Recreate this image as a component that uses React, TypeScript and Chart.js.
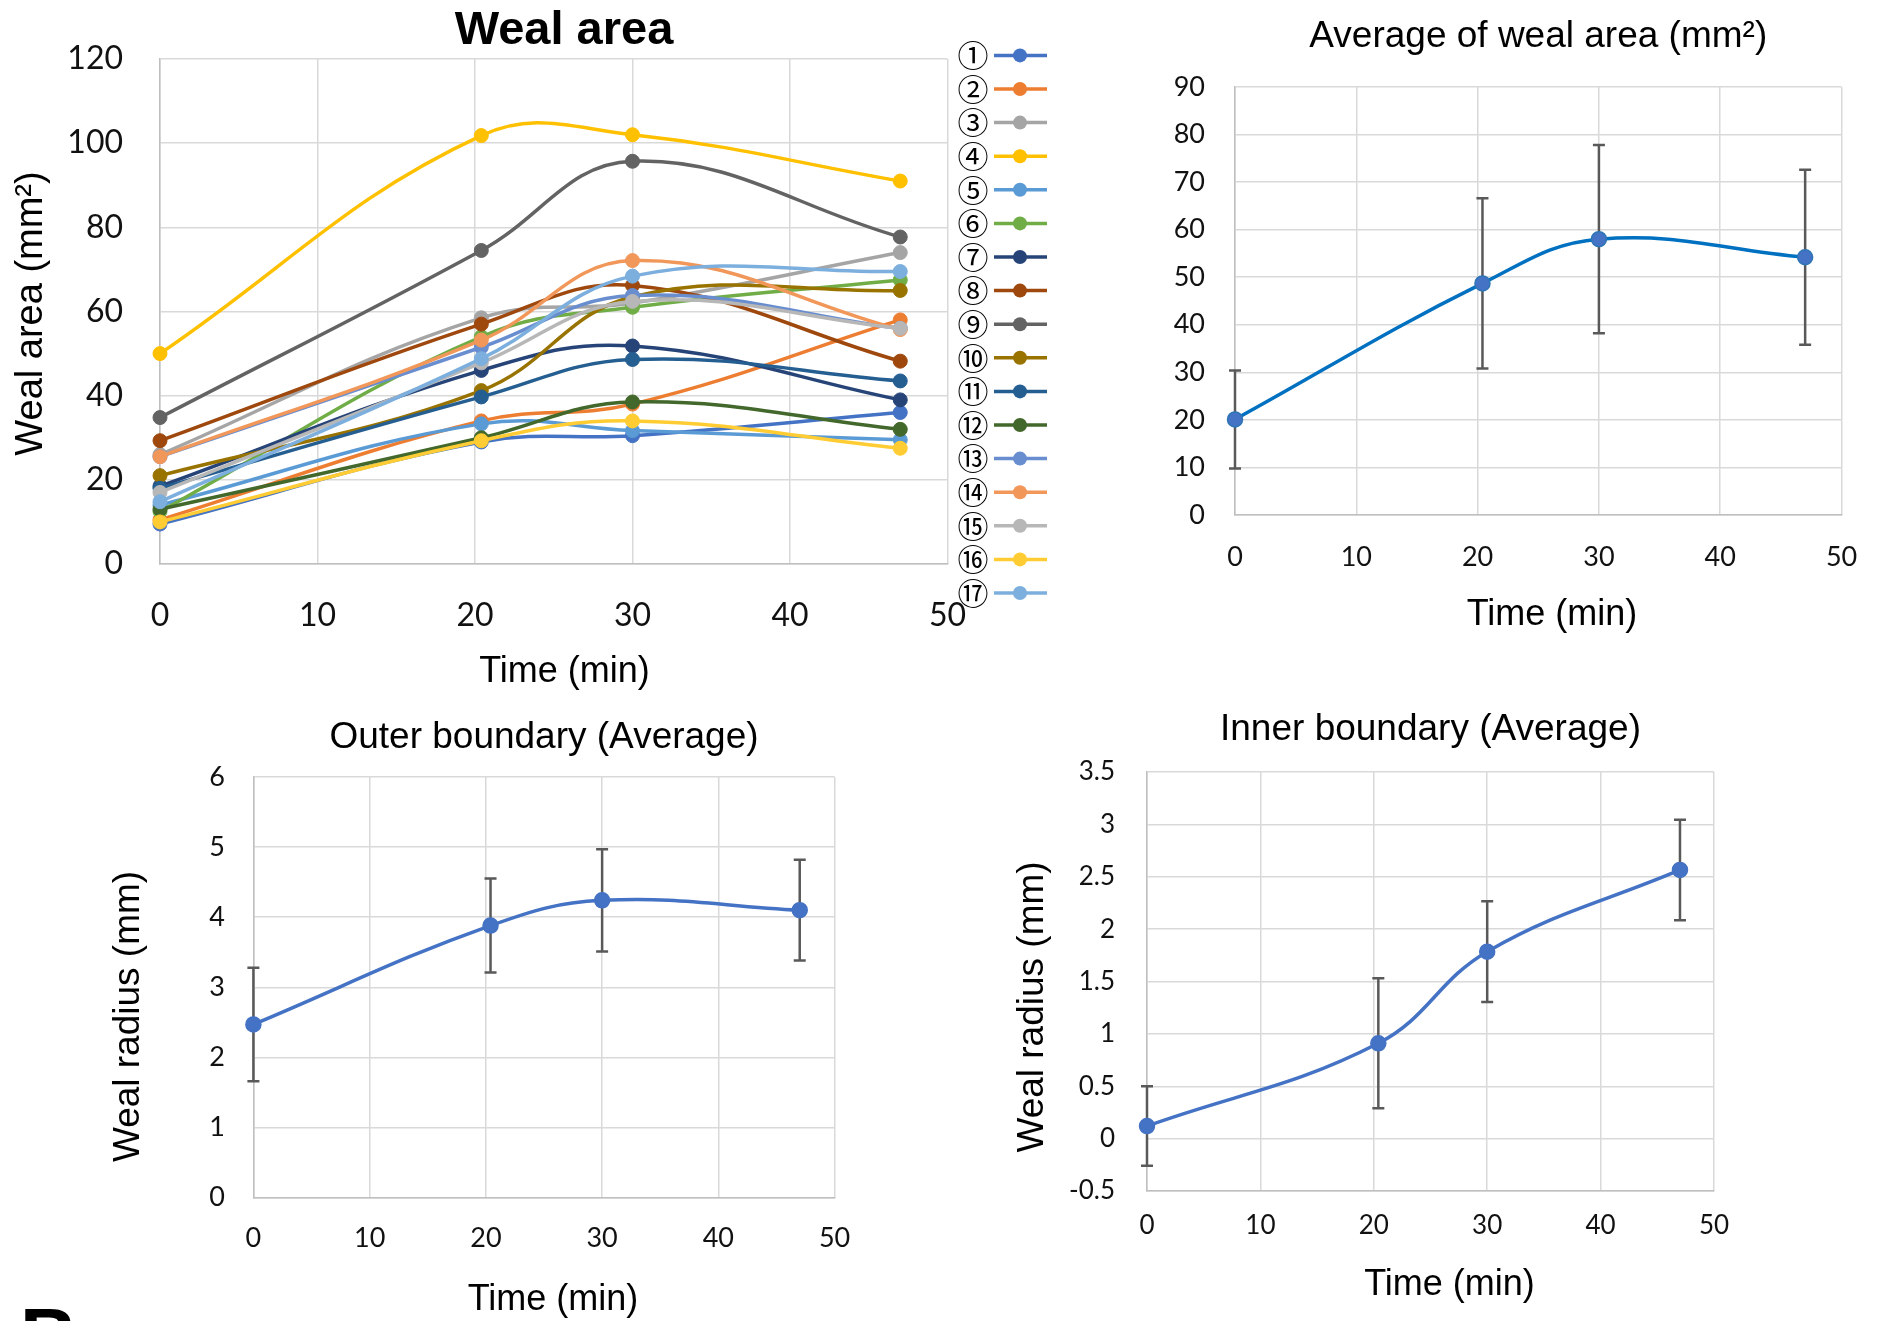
import React, { useEffect, useRef } from 'react';
import { Chart, registerables } from 'chart.js';

Chart.register(...registerables);

// ---------------- data ----------------
const TIMES = [0, 20.4, 30, 47];
const X_TICK_MIN = 0;
const X_TICK_MAX = 50;
const X_TICK_STEP = 10;

const SERIES_LABELS = ['①', '②', '③', '④', '⑤', '⑥', '⑦', '⑧', '⑨', '⑩', '⑪', '⑫', '⑬', '⑭', '⑮', '⑯', '⑰'];
const S01 = [9.5, 29, 30.5, 36];
const S02 = [10.5, 34, 38, 58];
const S03 = [26, 58.5, 62, 74];
const S04 = [50, 101.8, 102, 91];
const S05 = [14, 33.3, 31.7, 29.5];
const S06 = [12.5, 54, 61, 67.5];
const S07 = [18.5, 46, 51.8, 39];
const S08 = [29.3, 57, 66.2, 48.2];
const S09 = [34.8, 74.5, 95.7, 77.7];
const S10 = [21, 41.2, 63.5, 65];
const S11 = [18, 39.7, 48.6, 43.5];
const S12 = [13, 30, 38.5, 32];
const S13 = [25.5, 51.5, 63.8, 56];
const S14 = [25.5, 53.2, 72.1, 55.7];
const S15 = [17, 47.8, 62.4, 56];
const S16 = [10, 29.3, 34, 27.5];
const S17 = [14.8, 48.8, 68.4, 69.5];
const SERIES_VALUES = [S01, S02, S03, S04, S05, S06, S07, S08, S09, S10, S11, S12, S13, S14, S15, S16, S17];
const SERIES_COLORS = [
  '#4472C4', '#ED7D31', '#A5A5A5', '#FFC000', '#5B9BD5', '#70AD47', '#264478', '#9E480E', '#636363',
  '#997300', '#255E91', '#43682B', '#698ED0', '#F1975A', '#B7B7B7', '#FFCD33', '#7CAFDD',
];
const AREA_Y = [0, 120, 20];

const AREA_MEAN = [20.1, 48.7, 58.0, 54.2];
const AREA_SD = [10.3, 17.9, 19.8, 18.4];
const AREA_AVG_Y = [0, 90, 10];

const OUTER_MEAN = [2.47, 3.88, 4.24, 4.1];
const OUTER_SD = [0.81, 0.67, 0.73, 0.72];
const OUTER_Y = [0, 6, 1];

const INNER_MEAN = [0.12, 0.91, 1.785, 2.565];
const INNER_SD = [0.38, 0.62, 0.48, 0.48];
const INNER_Y = [-0.5, 3.5, 0.5];

// ---------------- styling helpers ----------------
const SANS = "'Liberation Sans', Arial, Helvetica, sans-serif";
const TICK_FONT = "Lato, 'Liberation Sans', sans-serif";
const CJK = "'Noto Sans CJK JP', 'Noto Sans CJK SC', sans-serif";

type TextItem = { text: string; x: number; y: number; size: number; rotate?: boolean; bold?: boolean };

function makeTextPlugin(items: TextItem[]) {
  return {
    id: 'freeText',
    afterDraw(chart: any) {
      const ctx = chart.ctx;
      items.forEach((it) => {
        ctx.save();
        ctx.translate(it.x, it.y);
        if (it.rotate) ctx.rotate(-Math.PI / 2);
        ctx.font = `${it.bold ? 'bold' : 'normal'} ${it.size}px ${SANS}`;
        ctx.fillStyle = '#000';
        ctx.textAlign = 'center';
        ctx.textBaseline = 'middle';
        ctx.fillText(it.text, 0, 0);
        ctx.restore();
      });
    },
  };
}

function makeErrorBarPlugin(sd: number[]) {
  return {
    id: 'errorBars',
    beforeDatasetsDraw(chart: any) {
      const ctx = chart.ctx;
      const xs = chart.scales.x;
      const ys = chart.scales.y;
      const pts = chart.data.datasets[0].data as { x: number; y: number }[];
      ctx.save();
      ctx.strokeStyle = '#595959';
      ctx.lineWidth = 2.5;
      pts.forEach((p, i) => {
        const px = xs.getPixelForValue(p.x);
        const top = ys.getPixelForValue(p.y + sd[i]);
        const bot = ys.getPixelForValue(p.y - sd[i]);
        ctx.beginPath();
        ctx.moveTo(px, top);
        ctx.lineTo(px, bot);
        ctx.moveTo(px - 6, top);
        ctx.lineTo(px + 6, top);
        ctx.moveTo(px - 6, bot);
        ctx.lineTo(px + 6, bot);
        ctx.stroke();
      });
      ctx.restore();
    },
  };
}

const seriesLegendPlugin = {
  id: 'seriesLegend',
  afterDraw(chart: any) {
    const ctx = chart.ctx;
    const y0 = 55.4;
    const dy = 33.6;
    ctx.save();
    chart.data.datasets.forEach((ds: any, i: number) => {
      const y = y0 + i * dy;
      ctx.fillStyle = '#000';
      ctx.font = `31px ${CJK}`;
      ctx.textAlign = 'center';
      ctx.textBaseline = 'middle';
      ctx.fillText(ds.label, 973, y);
      ctx.strokeStyle = ds.borderColor;
      ctx.lineWidth = 3.5;
      ctx.beginPath();
      ctx.moveTo(994, y);
      ctx.lineTo(1047, y);
      ctx.stroke();
      ctx.fillStyle = ds.borderColor;
      ctx.beginPath();
      ctx.arc(1020, y, 7, 0, Math.PI * 2);
      ctx.fill();
    });
    ctx.restore();
  },
};

function linearScale(range: number[], tickSize: number, pad: number, fit: number, horizontal: boolean) {
  return {
    type: 'linear',
    min: range[0],
    max: range[1],
    ticks: {
      stepSize: range[2],
      padding: pad,
      color: '#111',
      font: { family: TICK_FONT, size: tickSize },
      autoSkip: false,
      maxRotation: 0,
      callback: (v: any) => String(v),
    },
    grid: { color: '#D9D9D9', lineWidth: 1.5, drawTicks: false },
    border: { color: '#BFBFBF', width: 1.5 },
    afterFit: (s: any) => {
      if (horizontal) s.height = fit;
      else s.width = fit;
    },
  };
}

function titleOpts(text: string, size: number, top: number, bottom: number) {
  return {
    display: true,
    text,
    color: '#000',
    fullSize: false,
    font: { family: SANS, size, weight: 'normal' },
    padding: { top, bottom },
  };
}

const X_RANGE = [X_TICK_MIN, X_TICK_MAX, X_TICK_STEP];

function buildAreaConfig(): any {
  return {
    type: 'line',
    data: {
      datasets: SERIES_VALUES.map((vals, i) => ({
        label: SERIES_LABELS[i],
        data: TIMES.map((t, j) => ({ x: t, y: vals[j] })),
        borderColor: SERIES_COLORS[i],
        backgroundColor: SERIES_COLORS[i],
        pointBackgroundColor: SERIES_COLORS[i],
        pointBorderColor: SERIES_COLORS[i],
        borderWidth: 3.5,
        pointRadius: 7,
        pointBorderWidth: 1,
        tension: 0.4,
        fill: false,
        clip: false,
        order: -i,
      })),
    },
    options: {
      responsive: false,
      animation: false,
      events: [],
      layout: { padding: { left: 0, right: 180.5, top: 59, bottom: 0 } },
      plugins: {
        legend: { display: false },
        tooltip: { enabled: false },
        title: { display: false },
      },
      scales: {
        x: linearScale(X_RANGE, 32, 32, 136, true),
        y: linearScale(AREA_Y, 32, 37, 160, false),
      },
    },
    plugins: [
      seriesLegendPlugin,
      makeTextPlugin([
        { text: 'Weal area', x: 564, y: 31, size: 47, bold: true },
        { text: 'Weal area (mm²)', x: 32, y: 313.5, size: 38, rotate: true },
        { text: 'Time (min)', x: 564.5, y: 672, size: 36 },
      ]),
    ],
  };
}

type AvgSpec = {
  mean: number[];
  sd: number[];
  yRange: number[];
  lineColor: string;
  pointBorder: string;
  title: string;
  titleTop: number;
  titleBottom: number;
  padRight: number;
  yWidth: number;
  yPad: number;
  xHeight: number;
  xPad: number;
  tickSize: number;
  texts: TextItem[];
};

function buildAvgConfig(s: AvgSpec): any {
  return {
    type: 'line',
    data: {
      datasets: [
        {
          label: s.title,
          data: TIMES.map((t, j) => ({ x: t, y: s.mean[j] })),
          borderColor: s.lineColor,
          backgroundColor: '#4472C4',
          pointBackgroundColor: '#4472C4',
          pointBorderColor: s.pointBorder,
          pointBorderWidth: 1.5,
          borderWidth: 3.5,
          pointRadius: 7.5,
          tension: 0.4,
          fill: false,
          clip: false,
        },
      ],
    },
    options: {
      responsive: false,
      animation: false,
      events: [],
      layout: { padding: { left: 0, right: s.padRight, top: 0, bottom: 0 } },
      plugins: {
        legend: { display: false },
        tooltip: { enabled: false },
        title: titleOpts(s.title, 37, s.titleTop, s.titleBottom),
      },
      scales: {
        x: linearScale(X_RANGE, s.tickSize, s.xPad, s.xHeight, true),
        y: linearScale(s.yRange, s.tickSize, s.yPad, s.yWidth, false),
      },
    },
    plugins: [makeErrorBarPlugin(s.sd), makeTextPlugin(s.texts)],
  };
}

function ChartBox(props: { left: number; top: number; width: number; height: number; build: () => any }) {
  const ref = useRef<HTMLCanvasElement | null>(null);
  useEffect(() => {
    if (!ref.current) return;
    const chart = new Chart(ref.current, props.build());
    return () => chart.destroy();
  }, []);
  return (
    <canvas
      ref={ref}
      width={props.width}
      height={props.height}
      style={{ position: 'absolute', left: props.left, top: props.top, width: props.width, height: props.height }}
    />
  );
}

export default function App() {
  return (
    <div
      style={{
        position: 'absolute',
        left: 0,
        top: 0,
        width: 1883,
        height: 1321,
        overflow: 'hidden',
        background: '#fff',
      }}
    >
      <ChartBox left={0} top={0} width={1128} height={700} build={buildAreaConfig} />
      <ChartBox
        left={1130}
        top={0}
        width={753}
        height={660}
        build={() =>
          buildAvgConfig({
            mean: AREA_MEAN,
            sd: AREA_SD,
            yRange: AREA_AVG_Y,
            lineColor: '#0070C0',
            pointBorder: '#2E75B6',
            title: 'Average of weal area (mm²)',
            titleTop: 14.1,
            titleBottom: 28.5,
            padRight: 40,
            yWidth: 105,
            yPad: 30,
            xHeight: 145,
            xPad: 25.8,
            tickSize: 27,
            texts: [{ text: 'Time (min)', x: 422, y: 615.3, size: 36 }],
          })
        }
      />
      <ChartBox
        left={80}
        top={690}
        width={800}
        height={631}
        build={() =>
          buildAvgConfig({
            mean: OUTER_MEAN,
            sd: OUTER_SD,
            yRange: OUTER_Y,
            lineColor: '#4472C4',
            pointBorder: '#4472C4',
            title: 'Outer boundary (Average)',
            titleTop: 25.8,
            titleBottom: 16.8,
            padRight: 45.4,
            yWidth: 173.4,
            yPad: 28.4,
            xHeight: 123.5,
            xPad: 24.3,
            tickSize: 27,
            texts: [
              { text: 'Weal radius (mm)', x: 48.6, y: 326.5, size: 37, rotate: true },
              { text: 'Time (min)', x: 473, y: 610, size: 36 },
            ],
          })
        }
      />
      <ChartBox
        left={990}
        top={680}
        width={893}
        height={641}
        build={() =>
          buildAvgConfig({
            mean: INNER_MEAN,
            sd: INNER_SD,
            yRange: INNER_Y,
            lineColor: '#4472C4',
            pointBorder: '#4472C4',
            title: 'Inner boundary (Average)',
            titleTop: 27.8,
            titleBottom: 19.8,
            padRight: 169,
            yWidth: 157,
            yPad: 32,
            xHeight: 130,
            xPad: 19.4,
            tickSize: 26,
            texts: [
              { text: 'Weal radius (mm)', x: 43, y: 327, size: 37, rotate: true },
              { text: 'Time (min)', x: 459.5, y: 605, size: 36 },
            ],
          })
        }
      />
      <div
        style={{
          position: 'absolute',
          left: 20,
          top: 1297,
          fontFamily: SANS,
          fontWeight: 'bold',
          fontSize: 79,
          lineHeight: 1,
          color: '#000',
        }}
      >
        B
      </div>
    </div>
  );
}
